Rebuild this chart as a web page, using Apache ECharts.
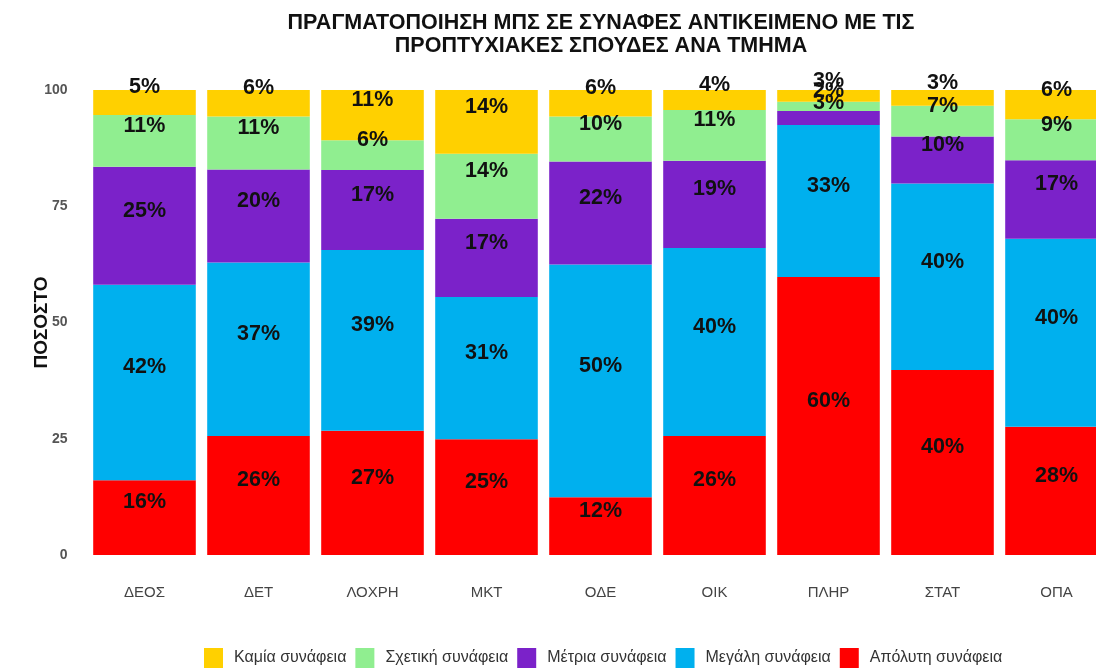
<!DOCTYPE html>
<html>
<head>
<meta charset="utf-8">
<script src="https://cdn.jsdelivr.net/npm/echarts@6/dist/echarts.min.js"></script>
<style>
html,body{margin:0;padding:0;background:#fff;overflow:hidden;}
#chart{width:1120px;height:669px;}
</style>
</head>
<body>
<div id="chart"></div>
<script>
const categories = ['ΔΕΟΣ','ΔΕΤ','ΛΟΧΡΗ','ΜΚΤ','ΟΔΕ','ΟΙΚ','ΠΛΗΡ','ΣΤΑΤ','ΟΠΑ'];
const absolute = [16.1, 25.6, 26.7, 24.9, 12.4, 25.6, 59.8, 39.8, 27.6];
const large    = [42.0, 37.3, 38.9, 30.6, 50.1, 40.4, 32.7, 40.1, 40.4];
const moderate = [25.4, 20.0, 17.2, 16.8, 22.1, 18.8, 3.0, 10.1, 16.9];
const relevant = [11.1, 11.4, 6.4, 14.0, 9.7, 10.9, 2.0, 6.6, 8.8];
const none     = [5.4, 5.7, 10.8, 13.7, 5.7, 4.3, 2.5, 3.4, 6.3];
const yTicks = [0, 25, 50, 75, 100];

const font = 'Liberation Sans, Arial, sans-serif';

function mk(name, data, color) {
  return {
    name: name, type: 'bar', stack: 'all', data: data,
    barCategoryGap: '10%',
    itemStyle: { color: color },
    label: {
      show: true, position: 'inside', offset: [0, -15],
      formatter: p => Math.round(p.value) + '%',
      color: '#111', fontWeight: 'bold', fontSize: 21.5, fontFamily: font
    }
  };
}

const chart = echarts.init(document.getElementById('chart'));
chart.setOption({
  animation: false,
  backgroundColor: '#fff',
  title: {
    text: 'ΠΡΑΓΜΑΤΟΠΟΙΗΣΗ ΜΠΣ ΣΕ ΣΥΝΑΦΕΣ ΑΝΤΙΚΕΙΜΕΝΟ ΜΕ ΤΙΣ\nΠΡΟΠΤΥΧΙΑΚΕΣ ΣΠΟΥΔΕΣ ΑΝΑ ΤΜΗΜΑ',
    left: 601, top: 12, textAlign: 'center', padding: 0,
    textStyle: { fontFamily: font, fontWeight: 'bold', fontSize: 21.5, lineHeight: 23, color: '#111' }
  },
  legend: {
    bottom: 1, left: 204, padding: 0, itemWidth: 19, itemHeight: 20, itemGap: 9,
    icon: 'rect',
    textStyle: { fontFamily: font, fontSize: 16, color: '#333', padding: [0, 0, 0, 6] },
    data: ['Καμία συνάφεια','Σχετική συνάφεια','Μέτρια συνάφεια','Μεγάλη συνάφεια','Απόλυτη συνάφεια']
  },
  grid: { left: 87.5, top: 90, width: 1026, height: 465 },
  xAxis: {
    type: 'category', data: categories,
    axisLine: { show: false }, axisTick: { show: false },
    axisLabel: { margin: 30, fontFamily: font, fontSize: 15, color: '#444' }
  },
  yAxis: {
    type: 'value', min: 0, max: 100, interval: 25,
    name: 'ΠΟΣΟΣΤΟ', nameLocation: 'middle', nameGap: 36, nameRotate: 90,
    nameMoveOverlap: false,
    nameTextStyle: { fontFamily: font, fontWeight: 'bold', fontSize: 19, color: '#111' },
    splitLine: { show: false }, axisLine: { show: false }, axisTick: { show: false },
    axisLabel: { margin: 20, fontFamily: font, fontWeight: 'bold', fontSize: 14, color: '#555',
      formatter: v => yTicks.includes(v) ? String(v) : '' }
  },
  series: [
    mk('Απόλυτη συνάφεια', absolute, '#FF0000'),
    mk('Μεγάλη συνάφεια', large, '#00B0EE'),
    mk('Μέτρια συνάφεια', moderate, '#7B22C9'),
    mk('Σχετική συνάφεια', relevant, '#90EE90'),
    mk('Καμία συνάφεια', none, '#FFD000')
  ]
});
</script>
</body>
</html>
